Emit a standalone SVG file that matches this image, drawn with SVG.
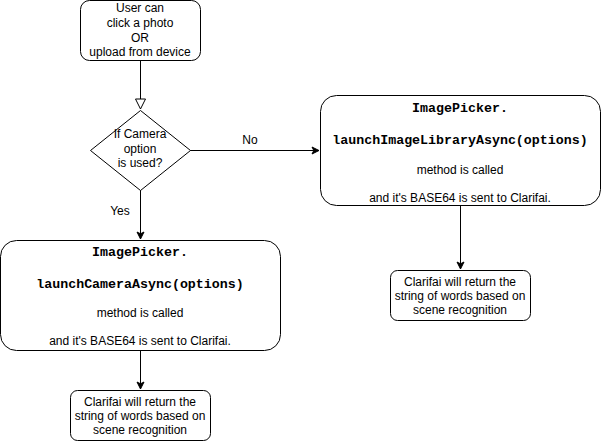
<svg xmlns="http://www.w3.org/2000/svg" width="601" height="441" viewBox="0 0 601 441">
<defs>
<marker id="arr" markerWidth="10" markerHeight="10" refX="8" refY="5" orient="auto" markerUnits="userSpaceOnUse">
<path d="M1,1.5 L8,5 L1,8.5 L2.8,5 Z" fill="#000" stroke="#000" stroke-width="1"/>
</marker>
<marker id="tri" markerWidth="14" markerHeight="14" refX="11" refY="6" orient="auto" markerUnits="userSpaceOnUse">
<path d="M1,1 L11,6 L1,11 Z" fill="#fff" stroke="#000" stroke-width="1"/>
</marker>
</defs>
<style>
.box{fill:#fff;stroke:#000;stroke-width:1}
.t{font-family:"Liberation Sans",Arial,sans-serif;font-size:12px;fill:#000;text-anchor:middle}
.m{font-family:"Liberation Mono","Courier New",monospace;font-size:13.3px;font-weight:bold;fill:#000;text-anchor:middle}
.c{fill:none;stroke:#000;stroke-width:1}
</style>
<rect width="601" height="441" fill="#fff"/>
<g id="connectors">
<path class="c" d="M140.5,60 L140.5,109" marker-end="url(#tri)"/>
<path class="c" d="M190,150.5 L319,150.5" marker-end="url(#arr)"/>
<path class="c" d="M140.5,190 L140.5,239" marker-end="url(#arr)"/>
<path class="c" d="M460.5,205 L460.5,269" marker-end="url(#arr)"/>
<path class="c" d="M140.5,350 L140.5,389" marker-end="url(#arr)"/>
<text class="t" x="250" y="144">No</text>
<text class="t" x="120" y="215">Yes</text>
</g>
<g id="start">
<rect class="box" x="80.5" y="0.5" width="120" height="60" rx="9"/>
<text class="t" x="140" y="12">User can</text>
<text class="t" x="140" y="27">click a photo</text>
<text class="t" x="140" y="42">OR</text>
<text class="t" x="140" y="56">upload from device</text>
</g>
<g id="decision">
<path class="box" d="M140.5,110.5 L190.5,150.5 L140.5,190.5 L90.5,150.5 Z"/>
<text class="t" x="140" y="138">If Camera</text>
<text class="t" x="140" y="153">option</text>
<text class="t" x="140" y="167">is used?</text>
</g>
<g id="library">
<rect class="box" x="320.5" y="95.5" width="280" height="110" rx="16"/>
<text class="m" x="460" y="112">ImagePicker.</text>
<text class="m" x="460" y="144">launchImageLibraryAsync(options)</text>
<text class="t" x="460" y="174">method is called</text>
<text class="t" x="460" y="202">and it's BASE64 is sent to Clarifai.</text>
</g>
<g id="camera">
<rect class="box" x="0.5" y="240.5" width="280" height="110" rx="16"/>
<text class="m" x="140" y="256">ImagePicker.</text>
<text class="m" x="140" y="288">launchCameraAsync(options)</text>
<text class="t" x="140" y="317">method is called</text>
<text class="t" x="140" y="345">and it's BASE64 is sent to Clarifai.</text>
</g>
<g id="result-right">
<rect class="box" x="390.5" y="270.5" width="140" height="50" rx="7"/>
<text class="t" x="460" y="286">Clarifai will return the</text>
<text class="t" x="460" y="300">string of words based on</text>
<text class="t" x="460" y="314">scene recognition</text>
</g>
<g id="result-left">
<rect class="box" x="70.5" y="390.5" width="140" height="50" rx="7"/>
<text class="t" x="140" y="406">Clarifai will return the</text>
<text class="t" x="140" y="420">string of words based on</text>
<text class="t" x="140" y="434">scene recognition</text>
</g>
</svg>
